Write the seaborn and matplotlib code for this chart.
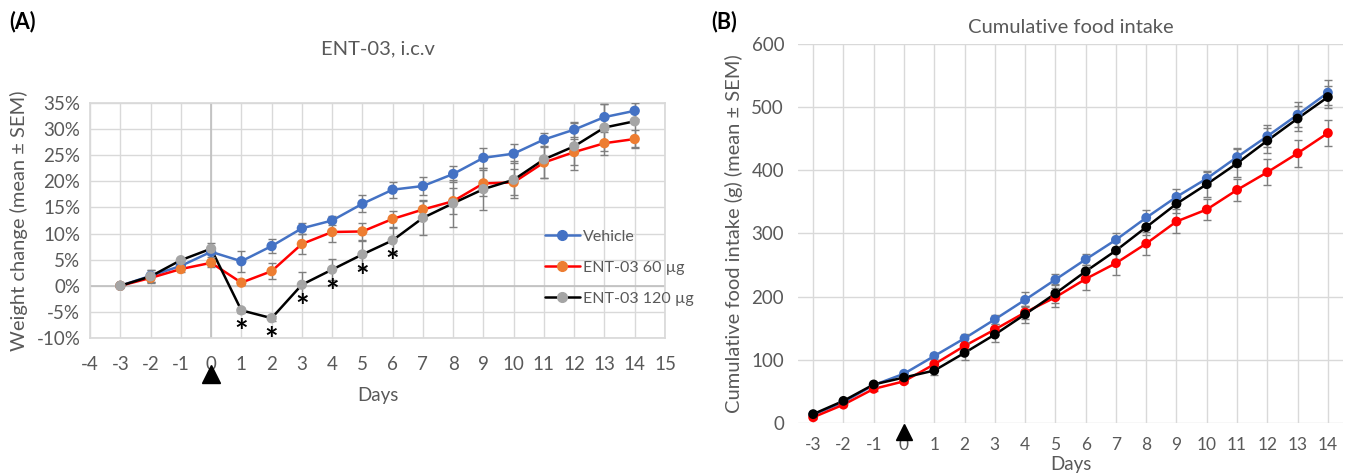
import numpy as np
import pandas as pd
import matplotlib.pyplot as plt
import seaborn as sns
from matplotlib.lines import Line2D
import matplotlib.transforms as mtransforms

sns.set_theme(style="white")
plt.rcParams['font.family'] = ['Lato', 'DejaVu Sans']
plt.rcParams['axes.unicode_minus'] = False

# ---------------- data ----------------
days = list(range(-3, 15))

# (A) weight change, % (mean and SEM)
wt_vehicle = [0, 1.9, 3.8, 6.5, 4.7, 7.6, 11.0, 12.5, 15.7, 18.4, 19.1, 21.4, 24.5, 25.3, 28.0, 29.9, 32.3, 33.5]
wt_vehicle_sem = [0, 1.2, 0.5, 1.0, 2.0, 1.3, 1.0, 0.9, 1.6, 1.5, 1.7, 1.5, 1.9, 1.8, 1.3, 1.4, 2.5, 1.5]
wt_60 = [0, 1.5, 3.2, 4.4, 0.6, 2.8, 8.0, 10.3, 10.4, 12.8, 14.6, 16.2, 19.6, 19.8, 23.6, 25.6, 27.3, 28.1]
wt_60_sem = [0, 0.7, 0.6, 0.8, 0.5, 1.5, 2.0, 2.0, 1.6, 1.6, 1.8, 2.5, 2.5, 2.5, 3.0, 2.5, 2.2, 1.8]
wt_120 = [0, 1.8, 4.9, 7.1, -4.7, -6.2, 0.2, 3.1, 6.0, 8.7, 13.0, 15.8, 18.5, 20.3, 24.2, 26.7, 30.3, 31.5]
wt_120_sem = [0, 1.2, 0.5, 1.1, 0.5, 0.5, 2.4, 2.0, 2.5, 2.4, 3.2, 4.5, 4.0, 3.5, 3.5, 4.5, 4.5, 5.0]
sig_days = [1, 2, 3, 4, 5, 6]

# (B) cumulative food intake, g (mean and SEM)
fi_vehicle = [13, 33, 60, 78, 106, 134, 164, 195, 227, 259, 290, 325, 358, 387, 421, 454, 488, 523]
fi_vehicle_sem = [2, 2, 3, 3, 5, 7, 7, 12, 9, 9, 11, 12, 13, 12, 14, 17, 20, 20]
fi_60 = [9, 29, 54, 66, 93, 122, 148, 175, 199, 228, 253, 284, 319, 338, 369, 397, 427, 459]
fi_60_sem = [2, 2, 3, 3, 4, 6, 8, 10, 15, 17, 18, 18, 19, 17, 18, 21, 21, 21]
fi_120 = [14, 35, 61, 72, 83, 111, 140, 172, 205, 240, 273, 310, 347, 378, 411, 447, 482, 516]
fi_120_sem = [2, 2, 3, 4, 7, 12, 12, 13, 15, 10, 13, 12, 15, 20, 22, 20, 20, 18]

groups = ['Vehicle', 'ENT-03 60 µg', 'ENT-03 120 µg']

txt = '#595959'
grid_c = '#D9D9D9'
err_c = '#7F7F7F'

fig = plt.figure(figsize=(13.48, 4.75), dpi=100)
axA = fig.add_axes([0.0668, 0.2884, 0.4265, 0.4948])
axB = fig.add_axes([0.592, 0.1095, 0.4043, 0.7979])


def draw(ax, means, sems, line_cols, mark_cols, msize):
    df = pd.DataFrame({
        'day': days * 3,
        'value': means[0] + means[1] + means[2],
        'group': np.repeat(groups, len(days)),
    })
    sns.lineplot(data=df, x='day', y='value', hue='group', hue_order=groups,
                 palette=dict(zip(groups, line_cols)), lw=1.8, ax=ax,
                 legend=False, zorder=2)
    for m, s in zip(means, sems):
        ax.errorbar(days, m, yerr=s, fmt='none', ecolor=err_c, elinewidth=1,
                    capsize=3, capthick=1, zorder=3)
    sns.scatterplot(data=df, x='day', y='value', hue='group', hue_order=groups,
                    palette=dict(zip(groups, mark_cols)), s=msize, edgecolor='none',
                    ax=ax, legend=False, zorder=4)


# ---------------- panel A ----------------
lineA = ['#4472C4', '#FF0000', '#000000']
markA = ['#4472C4', '#ED7D31', '#A5A5A5']
draw(axA, [wt_vehicle, wt_60, wt_120], [wt_vehicle_sem, wt_60_sem, wt_120_sem], lineA, markA, 55)

axA.set_xlim(-4, 15)
axA.set_ylim(-10, 35)
axA.set_xticks(range(-4, 16))
axA.set_yticks(range(-10, 36, 5))
axA.set_yticklabels([f'{v}%' for v in range(-10, 36, 5)])
axA.grid(True, color=grid_c, lw=1)
axA.axvline(0, color='#BFBFBF', lw=1.2, zorder=1)
axA.axhline(0, color='#BFBFBF', lw=1.2, zorder=1)
for sp in axA.spines.values():
    sp.set_color(grid_c)
axA.tick_params(axis='x', length=0, pad=13, labelsize=13.5, labelcolor=txt)
axA.tick_params(axis='y', length=0, pad=7, labelsize=13.5, labelcolor=txt)
axA.set_xlabel('Days', fontsize=13.5, color=txt, labelpad=10)
axA.set_ylabel('Weight change (mean ± SEM)', fontsize=14.5, color=txt, labelpad=6)
axA.set_title('ENT-03, i.c.v', fontsize=14.5, color=txt, pad=35)

for d in sig_days:
    i = days.index(d)
    axA.annotate('*', xy=(d, wt_120[i]), xytext=(0, -17), textcoords='offset points',
                 ha='center', va='center', fontsize=23, fontweight='bold', color='black')

tA = mtransforms.blended_transform_factory(axA.transData, axA.transAxes)
axA.plot([0], [-0.155], marker='^', ms=13, color='black', transform=tA, clip_on=False)

handles = [Line2D([], [], color=lc, lw=1.8, marker='o', mfc=mc, mec=mc, ms=7)
           for lc, mc in zip(lineA, markA)]
axA.legend(handles, groups, loc='center left', bbox_to_anchor=(0.78, 0.3), frameon=False,
           fontsize=11.5, labelcolor=txt, labelspacing=1.05, handlelength=2.2,
           handletextpad=0.2, borderaxespad=0)

fig.text(0.007, 0.955, '(A)', fontsize=15.5, fontweight='bold', color='black', va='center')

# ---------------- panel B ----------------
lineB = ['#4472C4', '#FF0000', '#000000']
draw(axB, [fi_vehicle, fi_60, fi_120], [fi_vehicle_sem, fi_60_sem, fi_120_sem], lineB, lineB, 50)

axB.set_xlim(-3.5, 14.5)
axB.set_ylim(0, 600)
axB.set_xticks(days)
axB.set_yticks(range(0, 601, 100))
axB.grid(True, color=grid_c, lw=1)
sns.despine(ax=axB, left=True, right=True, top=True, bottom=True)
axB.tick_params(axis='x', length=0, pad=10, labelsize=12.5, labelcolor=txt)
axB.tick_params(axis='y', length=0, pad=10, labelsize=13.5, labelcolor=txt)
axB.set_xlabel('Days', fontsize=13.5, color=txt, labelpad=2)
axB.set_ylabel('Cumulative food intake (g) (mean ± SEM)', fontsize=14.5, color=txt, labelpad=6)
axB.set_title('Cumulative food intake', fontsize=14.5, color=txt, pad=8)

tB = mtransforms.blended_transform_factory(axB.transData, axB.transAxes)
axB.plot([0], [-0.025], marker='^', ms=12, color='black', transform=tB, clip_on=False)

fig.text(0.528, 0.955, '(B)', fontsize=15.5, fontweight='bold', color='black', va='center')

fig.savefig('out.png', dpi=100, facecolor='white')
